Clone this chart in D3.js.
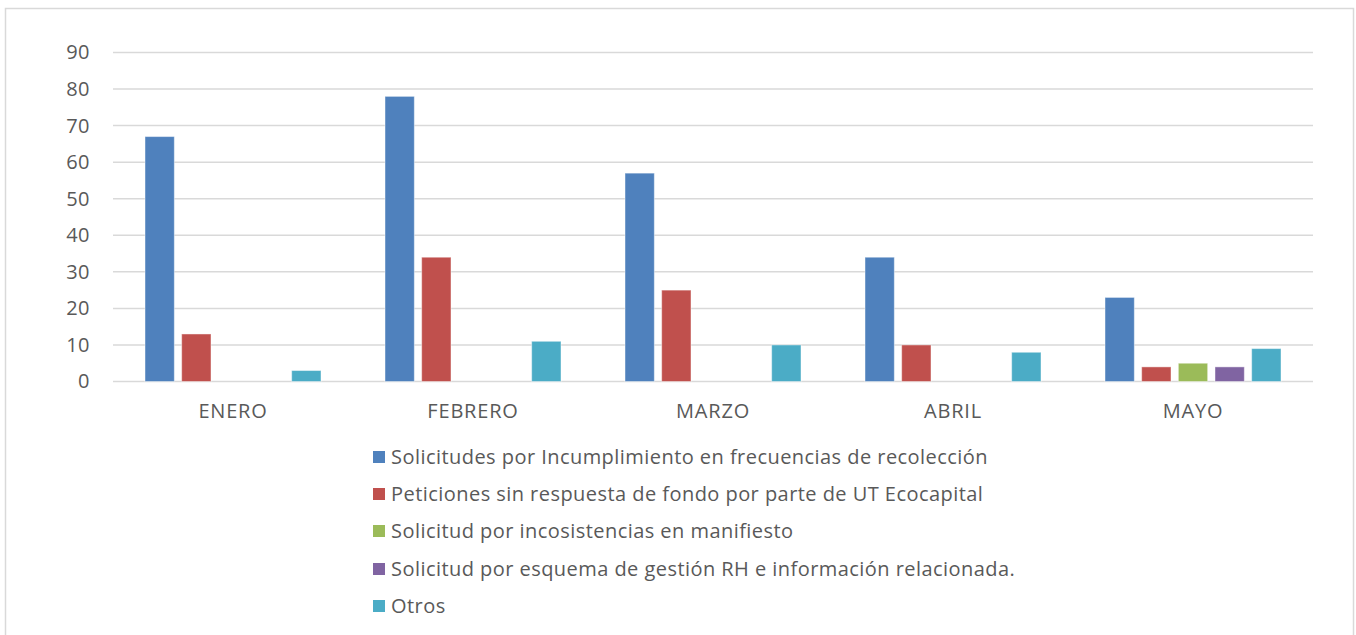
<!DOCTYPE html>
<html><head><meta charset="utf-8">
<script src="https://cdn.jsdelivr.net/npm/d3@7"></script>
<style>body{margin:0;background:#fff}svg{display:block}</style>
</head><body>
<svg id="c" width="1356" height="635"></svg>
<script>
const categories = ["ENERO","FEBRERO","MARZO","ABRIL","MAYO"];
const seriesNames = [
  "Solicitudes por Incumplimiento en frecuencias de recolección",
  "Peticiones sin respuesta de fondo por parte de UT Ecocapital",
  "Solicitud por incosistencias en manifiesto",
  "Solicitud por esquema de gestión RH e información relacionada.",
  "Otros"
];
const incumplimiento = [67,78,57,34,23];
const peticiones = [13,34,25,10,4];
const manifiesto = [0,0,0,0,5];
const esquemaRH = [0,0,0,0,4];
const otros = [3,11,10,8,9];
const yTicks = [0,10,20,30,40,50,60,70,80,90];
const colors = ["#4F81BD","#C0504D","#9BBB59","#8064A2","#4BACC6"];
const seriesValues = [incumplimiento, peticiones, manifiesto, esquemaRH, otros];

const svg = d3.select("#c");
const font = "'Open Sans', 'Liberation Sans', sans-serif";
svg.append("rect").attr("x",5.5).attr("y",8.5).attr("width",1348).attr("height",640)
  .attr("fill","#fff").attr("stroke","#d9d9d9").attr("stroke-width",1.5);

const pLeft=113, pRight=1313, pTop=52.5, pBottom=381.5;
const x = d3.scaleBand().domain(categories).range([pLeft,pRight]).paddingInner(0).paddingOuter(0);
const y = d3.scaleLinear().domain([0,90]).range([pBottom,pTop]);
const groupW = 176;
const x1 = d3.scaleBand().domain(d3.range(5)).range([0,groupW]).paddingInner(0.2).paddingOuter(0);

// gridlines
svg.append("g").selectAll("line").data(yTicks).join("line")
  .attr("x1",pLeft).attr("x2",pRight).attr("y1",d=>y(d)).attr("y2",d=>y(d))
  .attr("stroke","#d9d9d9").attr("stroke-width",1.5);

// y axis labels
const yAxis = d3.axisLeft(y).tickValues(yTicks).tickSize(0).tickPadding(0);
const ya = svg.append("g").attr("transform","translate(90,0)").call(yAxis);
ya.select(".domain").remove();
ya.selectAll("text").attr("font-family",font).attr("font-size",20).attr("letter-spacing",0.5).attr("fill","#595959");

// bars
const groups = svg.append("g").selectAll("g").data(categories).join("g")
  .attr("transform",d=>`translate(${x(d)+(x.bandwidth()-groupW)/2},0)`);
groups.selectAll("rect").data((c,ci)=>seriesValues.map((s,si)=>({si,v:s[ci]})).filter(d=>d.v>0))
  .join("rect")
  .attr("x",d=>x1(d.si)).attr("width",x1.bandwidth())
  .attr("y",d=>y(d.v)).attr("height",d=>y(0)-y(d.v))
  .attr("fill",d=>colors[d.si]).attr("stroke","rgba(255,255,255,0.45)").attr("stroke-width",1);

// x axis labels
const xAxis = d3.axisBottom(x).tickSize(0).tickPadding(0);
const xa = svg.append("g").attr("transform",`translate(0,${pBottom+22})`).call(xAxis);
xa.select(".domain").remove();
xa.selectAll("text").attr("font-family",font).attr("font-size",20).attr("letter-spacing",0.8).attr("fill","#595959").attr("dy","0.71em");

// legend
const lg = svg.append("g");
const rowY = [457,494,531,569,606];
seriesNames.forEach((n,i)=>{
  lg.append("rect").attr("x",373).attr("y",rowY[i]-6).attr("width",12).attr("height",12).attr("fill",colors[i]);
  lg.append("text").attr("x",391).attr("y",rowY[i]).attr("dy","0.35em")
    .attr("font-family",font).attr("font-size",20).attr("letter-spacing",0.45).attr("fill","#595959").text(n);
});
</script>
</body></html>
